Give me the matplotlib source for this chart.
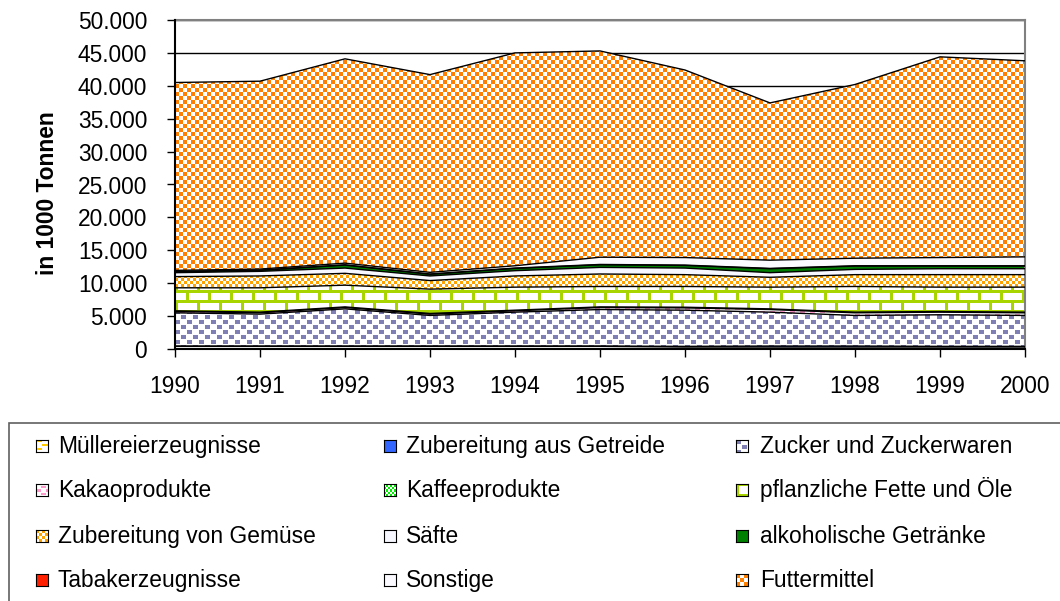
import numpy as np
import matplotlib
matplotlib.use("Agg")
import matplotlib.pyplot as plt
from matplotlib.path import Path
from matplotlib.patches import Rectangle
from matplotlib.ticker import FuncFormatter, MultipleLocator

plt.rcParams['font.family'] = ['Liberation Sans', 'DejaVu Sans']

years = np.arange(1990, 2001)

# values in 1000 t, stacked bottom -> top
muellerei = [400, 400, 400, 400, 400, 400, 300, 300, 300, 300, 300]
getreide = [50, 50, 50, 50, 50, 50, 100, 150, 150, 100, 100]
zucker = [5050, 4850, 5650, 4650, 5150, 5550, 5500, 5150, 4650, 4800, 4700]
kakao = [200, 200, 200, 200, 200, 300, 350, 400, 400, 400, 400]
kaffee = [100, 100, 100, 100, 100, 100, 100, 100, 100, 100, 100]
fette = [3500, 3700, 3300, 3700, 3500, 3100, 3150, 3300, 3900, 3700, 3800]
gemuese = [1700, 1800, 1800, 1300, 1700, 1900, 1800, 1500, 1800, 1900, 1900]
saefte = [600, 700, 800, 700, 800, 1000, 1000, 700, 800, 900, 900]
alkohol = [150, 150, 450, 250, 350, 400, 400, 600, 500, 400, 400]
tabak = [50, 50, 50, 50, 50, 50, 50, 50, 50, 50, 50]
sonstige = [150, 150, 250, 250, 350, 1100, 1150, 1250, 1150, 1250, 1350]
futter = [28550, 28550, 31050, 30050, 32350, 31350, 28500, 23900, 26400, 30500, 29800]

labels = ["Müllereierzeugnisse", "Zubereitung aus Getreide", "Zucker und Zuckerwaren",
          "Kakaoprodukte", "Kaffeeprodukte", "pflanzliche Fette und Öle",
          "Zubereitung von Gemüse", "Säfte", "alkoholische Getränke",
          "Tabakerzeugnisse", "Sonstige", "Futtermittel"]
series = [muellerei, getreide, zucker, kakao, kaffee, fette,
          gemuese, saefte, alkohol, tabak, sonstige, futter]


def rgb(c):
    return np.array(matplotlib.colors.to_rgb(c))


def solid(color):
    t = np.ones((2, 2, 3))
    t[:, :] = rgb(color)
    return t


def checker(color, n):
    t = np.ones((2 * n, 2 * n, 3))
    t[:n, :n] = rgb(color)
    t[n:, n:] = rgb(color)
    return t


def confetti(color):
    t = np.ones((10, 12, 3))
    t[0:4, 0:5] = rgb(color)
    t[5:9, 6:11] = rgb(color)
    return t


def bricks(color):
    t = np.ones((20, 22, 3))
    c = rgb(color)
    t[0:3, :] = c
    t[10:13, :] = c
    t[0:10, 0:3] = c
    t[10:20, 11:14] = c
    return t


def dashes(color, w=6, h=2, pw=12, ph=8):
    t = np.ones((ph, pw, 3))
    t[0:h, 0:w] = rgb(color)
    t[ph // 2:ph // 2 + h, pw // 2:pw // 2 + w] = rgb(color)
    return t


tiles = [dashes('#ffcc00'), solid('#3366ff'), confetti('#7f7fb3'),
         dashes('#ff99cc', 5, 2, 10, 6), checker('#00ee00', 2), bricks('#a8d400'),
         checker('#ffa200', 3), solid('#f7f7ff'), solid('#008000'),
         solid('#ff2000'), solid('#fafaff'), checker('#ff8000', 4)]

FW, FH = 1060, 601
AX_L, AX_R, AX_T, AX_B = 175, 1025, 20, 349
W, H = AX_R - AX_L, AX_B - AX_T


def tiled(tile, h, w):
    reps = (h // tile.shape[0] + 1, w // tile.shape[1] + 1, 1)
    return np.tile(tile, reps)[:h, :w]


def fill_pattern(ax, x, lo, hi, tile):
    verts = np.concatenate([np.column_stack([x, hi]),
                            np.column_stack([x[::-1], lo[::-1]])])
    path = Path(verts)
    im = ax.imshow(tiled(tile, H, W), extent=(1990, 2000, 0, 50000), origin='upper',
                   aspect='auto', interpolation='nearest', zorder=2)
    im.set_clip_path(path, ax.transData)


fig = plt.figure(figsize=(FW / 100, FH / 100), dpi=100)
ax = fig.add_axes([AX_L / FW, 1 - AX_B / FH, W / FW, H / FH])

bottom = np.zeros(len(years))
tops = []
for vals, tile in zip(series, tiles):
    top = bottom + np.array(vals)
    fill_pattern(ax, years, bottom, top, tile)
    tops.append(top)
    bottom = top
for top in tops:
    ax.plot(years, top, color='black', lw=1, zorder=3)

ax.set_xlim(1990, 2000)
ax.set_ylim(0, 50000)
ax.yaxis.set_major_locator(MultipleLocator(5000))
ax.set_xticks(years)
ax.yaxis.set_major_formatter(FuncFormatter(lambda v, p: f"{v:,.0f}".replace(",", ".")))
ax.grid(axis='y', color='black', lw=1, zorder=1)
ax.set_axisbelow(True)
ax.tick_params(axis='both', direction='out', length=6, width=1, labelsize=16.4, color='black')
ax.tick_params(axis='y', pad=14)
ax.tick_params(axis='x', pad=13)
for s in ['top', 'right']:
    ax.spines[s].set_color('#808080')
    ax.spines[s].set_linewidth(1.5)
for s in ['left', 'bottom']:
    ax.spines[s].set_color('black')
    ax.spines[s].set_linewidth(1.5)
    ax.spines[s].set_zorder(4)

fig.text(48 / FW, 1 - 193 / FH, "in 1000 Tonnen", rotation=90, fontsize=16.4,
         fontweight='bold', ha='center', va='center')

# legend box
fig.add_artist(Rectangle((9 / FW, -0.05), 1.2, (FH - 423) / FH + 0.05, fill=False,
                         edgecolor='#606060', lw=1.2, transform=fig.transFigure))
col_marker = [36, 384, 736]
col_text = [58, 406, 760]
row_base = [453, 497, 543, 587]
for i, (lab, tile) in enumerate(zip(labels, tiles)):
    r, c = divmod(i, 3)
    y = row_base[r]
    mx = fig.add_axes([col_marker[c] / FW, 1 - (y - 1) / FH, 12 / FW, 12 / FH])
    mx.imshow(tiled(tile, 12, 12), interpolation='nearest', aspect='auto')
    mx.set_xticks([])
    mx.set_yticks([])
    for s in mx.spines.values():
        s.set_color('black')
        s.set_linewidth(0.8)
    fig.text(col_text[c] / FW, 1 - y / FH, lab, fontsize=16.4, ha='left', va='baseline')

fig.savefig("out.png", dpi=100)
